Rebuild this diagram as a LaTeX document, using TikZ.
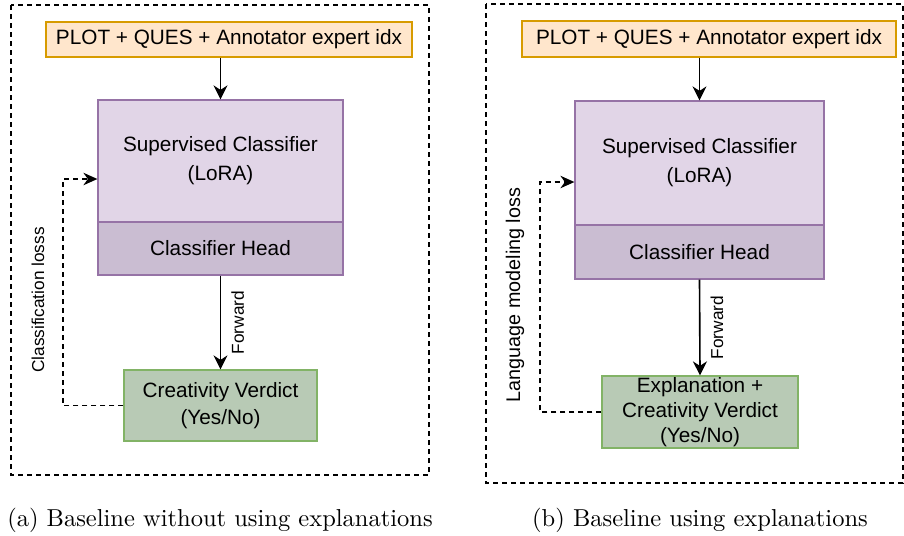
\documentclass[tikz,border=0pt]{standalone}
\usepackage{fontspec}
\usepackage{xcolor}
\usepackage{tikz}
\usetikzlibrary{positioning, arrows.meta, calc}
\newfontfamily\arialfont{Liberation Sans}

\definecolor{inputfill}{HTML}{FFE6CC}
\definecolor{inputdraw}{HTML}{D79B00}
\definecolor{modelfill}{HTML}{E1D5E7}
\definecolor{headfill}{HTML}{CABDD2}
\definecolor{modeldraw}{HTML}{9673A6}
\definecolor{outfill}{HTML}{B8CAB5}
\definecolor{outdraw}{HTML}{82B366}

\begin{document}
\begin{tikzpicture}[
    x=0.4pt, y=-0.4pt,
    box/.style={rectangle, draw, line width=0.5pt, inner sep=0pt, align=center, font=\arialfont\fontsize{8.3}{11.6}\selectfont},
    inbox/.style={box, fill=inputfill, draw=inputdraw, minimum height=14pt},
    modelbox/.style={box, fill=modelfill, draw=modeldraw, minimum width=98pt, minimum height=48.8pt},
    headbox/.style={box, fill=headfill, draw=modeldraw, minimum width=98pt, minimum height=21.2pt},
    outbox/.style={box, fill=outfill, draw=outdraw, minimum width=77.2pt, minimum height=28.4pt},
    arr/.style={-{Stealth[length=5.6pt, width=5.6pt, inset=1.8pt]}, line width=0.65pt},
    lossarr/.style={-{Stealth[length=5.6pt, width=5pt, inset=1.8pt]}, line width=0.6pt, dash pattern=on 2pt off 1.6pt},
    frame/.style={line width=0.6pt, dash pattern=on 2pt off 1.6pt},
    sidelabel/.style={rotate=90, inner sep=0pt, font=\arialfont\fontsize{6.9}{8}\selectfont},
    caption/.style={inner sep=0pt, font=\fontsize{9.8}{12}\selectfont},
]
\useasboundingbox (0,0) rectangle (904,535);

% (a) baseline without explanations
\draw[frame] (11,5) rectangle (429,475);

\node[inbox, minimum width=146.4pt] (inA) at (229,39.5) {PLOT + QUES + Annotator expert idx};
\node[modelbox] (supA) at (220.5,161) {Supervised Classifier\\(LoRA)};
\node[headbox] (headA) at (220.5,248.5) {Classifier Head};
\node[outbox, font=\arialfont\fontsize{8.3}{10.8}\selectfont] (outA) at (220.5,405.5) {Creativity Verdict\\(Yes/No)};

\draw[arr] (inA.south -| supA) -- (supA.north);
\draw[arr] (headA.south) -- (outA.north) node[midway, right=4pt, sidelabel, anchor=north] {Forward};

\coordinate (lossA) at (63,179);
\draw[lossarr] (outA.west) -| (lossA) -- (lossA -| supA.west);
\node[sidelabel] (lossAlabel) at (38,300) {Classification losss};

\node[caption] (capA) at (220,520) {(a) Baseline without using explanations};

% (b) baseline using explanations
\draw[frame] (486,4) rectangle (903,483);

\node[inbox, minimum width=149.6pt, minimum height=14.4pt] (inB) at (709,39) {PLOT + QUES + Annotator expert idx};
\node[modelbox, minimum width=99.6pt, minimum height=49.6pt] (supB) at (699.5,163) {Supervised Classifier\\(LoRA)};
\node[headbox, minimum width=99.6pt, minimum height=21.6pt] (headB) at (699.5,252) {Classifier Head};
\node[outbox, minimum width=78.4pt, minimum height=28.8pt, font=\arialfont\fontsize{8.3}{10}\selectfont] (outB) at (700,412) {Explanation +\\Creativity Verdict\\(Yes/No)};

\draw[arr] (inB.south -| supB) -- (supB.north);
\draw[arr] (headB.south) -- (outB.north) node[midway, right=4pt, sidelabel, anchor=north] {Forward};

\coordinate (lossB) at (540,182);
\draw[lossarr] (outB.west) -| (lossB) -- (lossB -| supB.west);
\node[sidelabel, font=\arialfont\fontsize{7.9}{9}\selectfont] (lossBlabel) at (515,295) {Language modeling loss};

\node[caption] (capB) at (700,520) {(b) Baseline using explanations};

\end{tikzpicture}
\end{document}
